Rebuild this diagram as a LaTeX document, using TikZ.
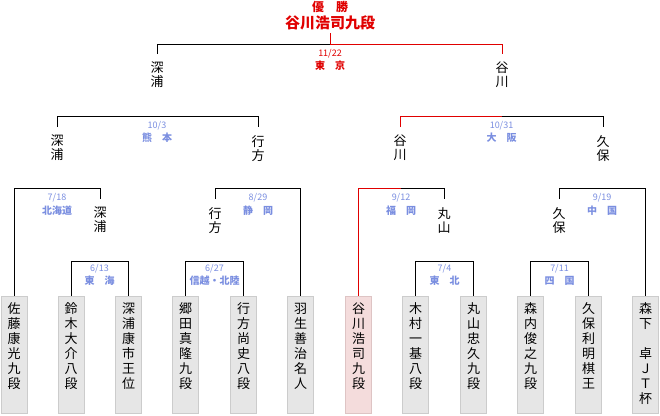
\documentclass[tikz,border=0pt]{standalone}
\usepackage{fontspec}
\setmainfont{Noto Sans CJK JP}
\definecolor{wred}{HTML}{E00000}
\definecolor{wblue}{RGB}{122,142,224}
\definecolor{boxfill}{HTML}{E6E6E6}
\definecolor{boxline}{HTML}{CCCCCC}
\definecolor{pinkfill}{HTML}{F4DCDC}
\definecolor{pinkline}{HTML}{DEC4C4}
\newcommand{\bt}[1]{\parbox[t][117pt][t]{26pt}{\centering\vspace*{7pt}#1}}
\begin{document}
\begin{tikzpicture}[x=1pt,y=-1pt,
  ln/.style={line width=1pt,black},
  rl/.style={line width=1pt,wred},
  pbox/.style={draw=boxline,fill=boxfill,line width=1pt,anchor=north,inner sep=0pt,
     font=\fontsize{13}{15}\selectfont},
  pinkbox/.style={pbox,draw=pinkline,fill=pinkfill},
  nm/.style={font=\fontsize{13}{14}\selectfont,align=center,anchor=north,inner xsep=0pt,inner ysep=8pt},
  dt/.style={font=\fontsize{9}{9}\selectfont,text=wblue,inner sep=0pt},
  rg/.style={font=\fontsize{10}{10}\selectfont\bfseries,text=wblue,inner sep=0pt}]
\useasboundingbox (0,0) rectangle (660,415);
\coordinate (R1) at (0,261);
\coordinate (R2) at (0,188);
\coordinate (R3) at (0,116);
\coordinate (RF) at (0,44);
% players
\node[pbox] (b1) at (14,295.5) {\bt{佐\\藤\\康\\光\\九\\段}};
\node[pbox] (b2) at (71,295.5) {\bt{鈴\\木\\大\\介\\八\\段}};
\node[pbox] (b3) at (128.5,295.5) {\bt{深\\浦\\康\\市\\王\\位}};
\node[pbox] (b4) at (185.5,295.5) {\bt{郷\\田\\真\\隆\\九\\段}};
\node[pbox] (b5) at (243.5,295.5) {\bt{行\\方\\尚\\史\\八\\段}};
\node[pbox] (b6) at (300.5,295.5) {\bt{羽\\生\\善\\治\\名\\人}};
\node[pinkbox] (b7) at (358.5,295.5) {\bt{谷\\川\\浩\\司\\九\\段}};
\node[pbox] (b8) at (415.5,295.5) {\bt{木\\村\\一\\基\\八\\段}};
\node[pbox] (b9) at (473.5,295.5) {\bt{丸\\山\\忠\\久\\九\\段}};
\node[pbox] (b10) at (530.5,295.5) {\bt{森\\内\\俊\\之\\九\\段}};
\node[pbox] (b11) at (588.5,295.5) {\bt{久\\保\\利\\明\\棋\\王}};
\node[pbox] (b12) at (645.5,295.5) {\bt{森\\下\\　\\卓\\Ｊ\\Ｔ\\杯}};
% round 2 names
\node[nm] (m1) at (100,199) {深\\浦};
\node[nm] (m2) at (215,199) {行\\方};
\node[nm] (m3) at (444,199) {丸\\山};
\node[nm] (m4) at (559,199) {久\\保};
% round 3 names
\node[nm] (s1) at (57,127) {深\\浦};
\node[nm] (s2) at (258,127) {行\\方};
\node[nm] (s3) at (400,127) {谷\\川};
\node[nm] (s4) at (603,127) {久\\保};
% final names
\node[nm] (f1) at (157,54) {深\\浦};
\node[nm] (f2) at (502,54) {谷\\川};
% champion
\node[font=\fontsize{12}{12}\selectfont\bfseries,text=wred,inner sep=0pt] (yu) at (330,7) {優　勝};
\node[font=\fontsize{15}{15}\selectfont\bfseries,text=wred,inner sep=0pt,minimum height=20pt] (ch) at (330,23) {谷川浩司九段};
% round 1 brackets
\draw[ln] (b2.north) -- (b2.north |- R1) -| (b3.north);
\draw[ln] (b4.north) -- (b4.north |- R1) -| (b5.north);
\draw[ln] (b8.north) -- (b8.north |- R1) -| (b9.north);
\draw[ln] (b10.north) -- (b10.north |- R1) -| (b11.north);
\node[dt] (d1) at (99.5,269) {6/13};
\node[rg] (g1) at (99.5,281) {東　海};
\node[dt] (d2) at (214.5,269) {6/27};
\node[rg] (g2) at (214.5,281) {信越・北陸};
\node[dt] (d3) at (444.5,269) {7/4};
\node[rg] (g3) at (444.5,281) {東　北};
\node[dt] (d4) at (559.5,269) {7/11};
\node[rg] (g4) at (559.5,281) {四　国};
% round 2 brackets
\draw[ln] (b1.north) -- (b1.north |- R2) -| (m1.north);
\draw[ln] (m2.north) -- (m2.north |- R2) -| (b6.north);
\coordinate (c912) at (401,188);
\draw[rl] (b7.north) -- (b7.north |- R2) -- (c912);
\draw[ln] (c912) -| (m3.north);
\draw[ln] (m4.north) -- (m4.north |- R2) -| (b12.north);
\node[dt] (d5) at (57,198) {7/18};
\node[rg] (g5) at (57,210.5) {北海道};
\node[dt] (d6) at (258,198) {8/29};
\node[rg] (g6) at (258,210.5) {静　岡};
\node[dt] (d7) at (401,198) {9/12};
\node[rg] (g7) at (401,210.5) {福　岡};
\node[dt] (d8) at (602,198) {9/19};
\node[rg] (g8) at (602,210.5) {中　国};
% round 3 brackets
\draw[ln] (s1.north) -- (s1.north |- R3) -| (s2.north);
\coordinate (c1031) at (501.5,116);
\draw[rl] (s3.north) -- (s3.north |- R3) -- (c1031);
\draw[ln] (c1031) -| (s4.north);
\node[dt] (d9) at (157,126) {10/3};
\node[rg] (g9) at (157,137.5) {熊　本};
\node[dt] (d10) at (501.5,126) {10/31};
\node[rg] (g10) at (501.5,137.5) {大　阪};
% final
\coordinate (cF) at (330,44);
\draw[ln] (f1.north) -- (f1.north |- RF) -- (cF);
\draw[rl] (cF) -| (f2.north);
\draw[rl] (cF) -- (ch.south);
\node[dt,text=wred] (d11) at (330,53.5) {11/22};
\node[rg,text=wred] (g11) at (330,65.5) {東　京};
\end{tikzpicture}
\end{document}
